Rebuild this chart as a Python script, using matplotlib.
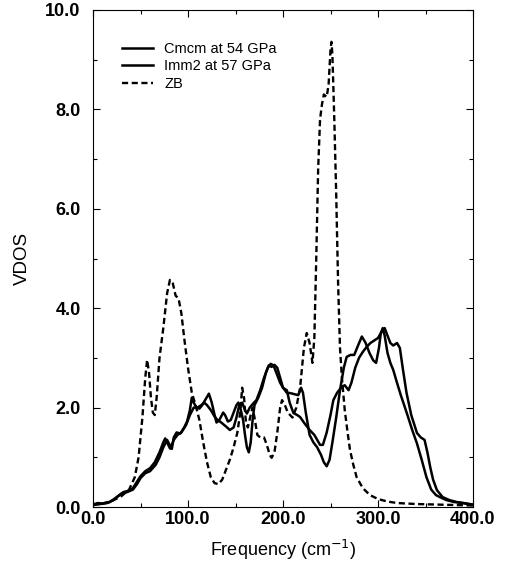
import matplotlib
matplotlib.use("Agg")
import matplotlib.pyplot as plt
from matplotlib.ticker import MultipleLocator, FormatStrFormatter

plt.rcParams['font.family'] = ['Liberation Sans', 'DejaVu Sans']

# ---- data ----
zb_x = [0, 10, 20, 30, 38, 44, 48, 52, 55, 57, 59, 61, 63, 65, 67, 70, 74, 78, 81, 84,
        87, 90, 93, 96, 100, 104, 108, 112, 116, 120, 124, 128, 132, 136, 140, 144, 148,
        152, 155, 157, 159, 161, 163, 166, 168, 170, 173, 176, 180, 183, 186, 188, 191,
        194, 197, 199, 202, 205, 210, 214, 218, 222, 225, 228, 231, 233, 235, 237, 239,
        241, 243, 246, 248, 250, 251, 252, 254, 256, 258, 260, 262, 265, 268, 270.5, 274,
        277.5, 284, 291.5, 300, 310, 320, 340, 360, 380, 400]
zb_y = [0.05, 0.07, 0.12, 0.22, 0.35, 0.6, 1.0, 1.8, 2.6, 2.96, 2.7, 2.2, 1.9, 1.85, 2.2,
        3.0, 3.6, 4.3, 4.57, 4.5, 4.25, 4.2, 3.9, 3.4, 2.8, 2.3, 2.05, 1.75, 1.3, 0.9, 0.6,
        0.48, 0.46, 0.55, 0.75, 0.95, 1.2, 1.5, 1.9, 2.4, 2.2, 1.7, 1.6, 1.85, 2.0, 1.8,
        1.45, 1.4, 1.4, 1.25, 1.05, 0.99, 1.1, 1.5, 2.0, 2.15, 2.05, 1.9, 1.8, 2.0, 2.4,
        3.2, 3.5, 3.3, 2.9, 3.4, 5.0, 6.8, 7.8, 8.1, 8.3, 8.25, 8.5, 9.2, 9.36, 9.1, 7.8,
        6.3, 4.5, 3.2, 2.6, 1.95, 1.5, 1.15, 0.85, 0.6, 0.38, 0.24, 0.16, 0.11, 0.08,
        0.06, 0.05, 0.04, 0.03]

cmcm_x = [0, 5, 10, 18, 25, 32, 38, 42, 46, 50, 55, 60, 65, 70, 74, 76, 78, 81, 83, 85,
          88, 92, 96, 99, 102, 104, 106, 109, 112, 115, 118, 122, 125, 128, 130, 133, 137,
          139, 142, 145, 148, 151, 153, 155, 158, 160, 162, 164, 166, 168, 170, 174, 178,
          182, 185, 188, 191, 194, 197, 200, 204, 208, 212, 216, 219, 221, 224, 228, 232,
          236, 240, 243, 246, 249, 252, 256, 260, 264, 267, 271, 275, 279, 283, 287, 291,
          295, 298, 301, 303, 305, 307, 310, 313, 316, 320, 324, 327, 331, 336, 341, 346,
          351, 356, 361, 365, 372, 380, 390, 400]
cmcm_y = [0.05, 0.08, 0.07, 0.1, 0.2, 0.3, 0.33, 0.38, 0.5, 0.62, 0.72, 0.78, 0.9, 1.1,
          1.3, 1.38, 1.3, 1.18, 1.17, 1.4, 1.5, 1.48, 1.6, 1.72, 1.95, 2.2, 2.1, 2.0, 1.98,
          2.05, 2.15, 2.28, 2.1, 1.85, 1.7, 1.75, 1.9, 1.85, 1.72, 1.75, 1.9, 2.05, 2.1,
          2.0, 1.75, 1.45, 1.2, 1.1, 1.3, 1.75, 2.05, 2.2, 2.4, 2.7, 2.85, 2.82, 2.86, 2.8,
          2.6, 2.4, 2.3, 2.29, 2.27, 2.25, 2.4, 2.3, 1.9, 1.45, 1.3, 1.2, 1.05, 0.9, 0.82,
          0.95, 1.3, 1.8, 2.35, 2.8, 3.02, 3.06, 3.06, 3.25, 3.43, 3.3, 3.1, 2.95, 2.9,
          3.2, 3.5, 3.6, 3.45, 3.1, 2.9, 2.76, 2.5, 2.25, 2.08, 1.85, 1.55, 1.28, 0.95,
          0.6, 0.35, 0.24, 0.2, 0.14, 0.1, 0.08, 0.05]

imm2_x = [0, 8, 15, 22, 30, 36, 42, 46, 50, 55, 60, 66, 70, 74, 78, 82, 85, 89, 93, 98,
          102, 106, 110, 114, 117, 120, 124, 128, 131, 135, 140, 144, 148, 151, 154, 157,
          160, 162, 165, 169, 172, 176, 180, 184, 187, 190, 193, 197, 200, 204, 207, 211,
          215, 218, 222, 228, 233, 236, 239, 242, 246, 250, 253, 257, 262, 265, 269, 272,
          276, 280, 284, 288, 292, 296, 300, 303, 307, 310, 313, 316, 320, 323, 326, 330,
          335, 341, 345, 349, 352, 355, 358, 362, 368, 375, 383, 392, 400]
imm2_y = [0.04, 0.06, 0.08, 0.15, 0.27, 0.3, 0.35, 0.45, 0.58, 0.68, 0.72, 0.85, 1.0,
          1.2, 1.35, 1.2, 1.35, 1.45, 1.5, 1.65, 1.85, 2.0, 2.0, 2.05, 2.1, 2.05, 1.95,
          1.82, 1.75, 1.7, 1.62, 1.55, 1.6, 1.8, 2.05, 2.1, 1.95, 1.88, 2.0, 2.09, 2.15,
          2.35, 2.6, 2.8, 2.88, 2.85, 2.7, 2.5, 2.4, 2.35, 2.1, 1.89, 1.85, 1.81, 1.7,
          1.55, 1.45, 1.35, 1.25, 1.25, 1.5, 1.85, 2.15, 2.3, 2.42, 2.45, 2.35, 2.5, 2.8,
          3.0, 3.12, 3.22, 3.3, 3.35, 3.4, 3.5, 3.6, 3.45, 3.3, 3.25, 3.3, 3.2, 2.8, 2.3,
          1.85, 1.49, 1.4, 1.35, 1.1, 0.8, 0.55, 0.34, 0.2, 0.14, 0.1, 0.07, 0.04]

labels = ["Cmcm at 54 GPa", "Imm2 at 57 GPa", "ZB"]
x_ticks = [0, 100, 200, 300, 400]
y_ticks = [0, 2, 4, 6, 8, 10]

# ---- figure ----
fig = plt.figure(figsize=(5.05, 5.66), dpi=100)
ax = fig.add_axes([93/505, 1 - 507/566, 380/505, 497/566])

ax.plot(cmcm_x, cmcm_y, color='black', lw=1.8, label=labels[0])
ax.plot(imm2_x, imm2_y, color='black', lw=1.8, label=labels[1])
ax.plot(zb_x, zb_y, color='black', lw=1.7, ls=(0, (2.6, 1.5)), label=labels[2])

ax.set_xlim(0, 400)
ax.set_ylim(0, 10)
ax.set_xticks(x_ticks)
ax.set_yticks(y_ticks)
ax.xaxis.set_minor_locator(MultipleLocator(50))
ax.yaxis.set_minor_locator(MultipleLocator(1))
ax.xaxis.set_major_formatter(FormatStrFormatter('%.1f'))
ax.yaxis.set_major_formatter(FormatStrFormatter('%.1f'))
ax.tick_params(which='both', direction='in', top=True, right=True, width=0.8)
ax.tick_params(which='major', length=5, labelsize=13)
ax.tick_params(axis='x', which='major', pad=3)
ax.tick_params(axis='y', which='major', pad=9)
ax.tick_params(which='minor', length=3)
for lab in ax.get_xticklabels() + ax.get_yticklabels():
    lab.set_fontweight('bold')
for sp in ax.spines.values():
    sp.set_linewidth(0.8)

ax.set_xlabel("Frequency (cm$^{-1}$)", fontsize=13, labelpad=7)
ax.set_ylabel("VDOS", fontsize=13.5, labelpad=10)

leg = ax.legend(loc='upper left', bbox_to_anchor=(0.076, 0.936), frameon=False,
                fontsize=10.5, handlelength=2.1, handletextpad=0.8,
                labelspacing=0.25, borderpad=0, borderaxespad=0)

fig.savefig("out.png", dpi=100)
